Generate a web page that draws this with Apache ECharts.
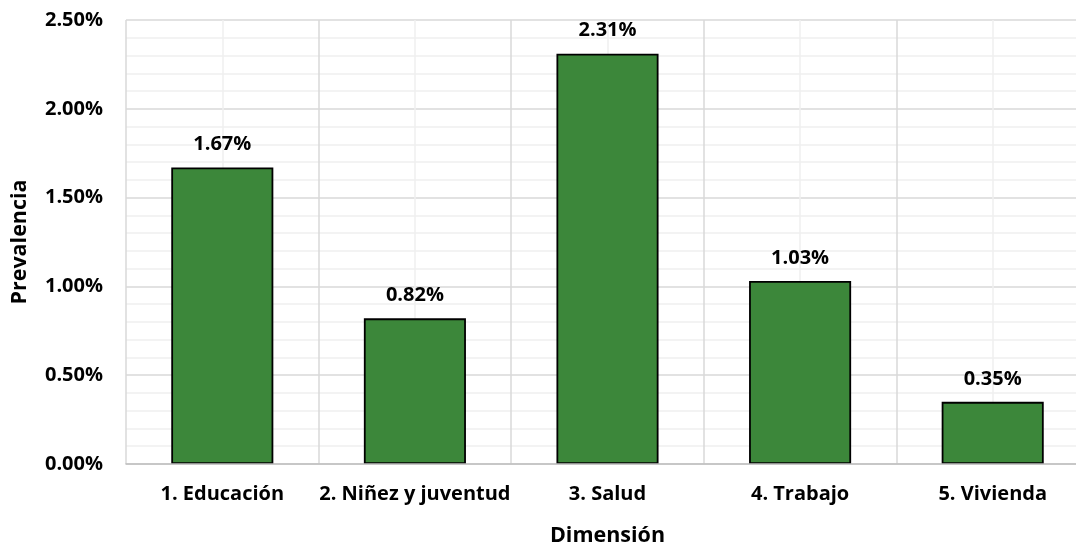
<!DOCTYPE html>
<html>
<head>
<meta charset="utf-8">
<script src="https://cdn.jsdelivr.net/npm/echarts@6/dist/echarts.min.js"></script>
<style>html,body{margin:0;padding:0;background:#fff}#c{width:1076px;height:544px}</style>
</head>
<body>
<div id="c"></div>
<script>
const categories = ['1. Educación', '2. Niñez y juventud', '3. Salud', '4. Trabajo', '5. Vivienda'];
const prevalencia = [1.67, 0.82, 2.31, 1.03, 0.35];
const yTicks = [0, 0.5, 1.0, 1.5, 2.0, 2.5];

const FONT = '"Open Sans"';
const chart = echarts.init(document.getElementById('c'));
chart.setOption({
  animation: false,
  grid: { left: 126, top: 20, bottom: 80, right: -13, containLabel: false, outerBoundsMode: 'none' },
  xAxis: [{
    type: 'category',
    data: categories,
    axisLine: { lineStyle: { color: '#bfbfbf', width: 1.5 } },
    axisTick: { show: false },
    splitLine: { show: false },
    axisLabel: { interval: 0, fontFamily: FONT, fontWeight: 'bold', fontSize: 20, color: '#000', margin: 20 },
    name: 'Dimensión',
    nameLocation: 'middle',
    nameGap: 61,
    nameTextStyle: { fontFamily: FONT, fontWeight: 'bold', fontSize: 21.5, color: '#000' },
    z: 3
  }, {
    type: 'value',
    position: 'bottom',
    min: 0, max: categories.length, interval: 0.5,
    axisLine: { show: false }, axisTick: { show: false }, axisLabel: { show: false },
    splitLine: { show: true, lineStyle: { color: ['#d9d9d9', '#efefef'], width: 1.5 } }
  }],
  yAxis: {
    type: 'value',
    min: yTicks[0], max: yTicks[yTicks.length - 1], interval: 0.5,
    axisLine: { show: false }, axisTick: { show: false },
    axisLabel: { fontFamily: FONT, fontWeight: 'bold', fontSize: 20, color: '#000', margin: 23,
      formatter: v => v.toFixed(2) + '%' },
    splitLine: { lineStyle: { color: '#d9d9d9', width: 1.5 } },
    minorTick: { show: false, splitNumber: 5 },
    minorSplitLine: { show: true, lineStyle: { color: '#efefef', width: 1.5 } },
    name: 'Prevalencia',
    nameLocation: 'middle',
    nameGap: 95,
    nameTextStyle: { fontFamily: FONT, fontWeight: 'bold', fontSize: 21.5, color: '#000' }
  },
  series: [{
    type: 'bar',
    xAxisIndex: 0,
    data: prevalencia,
    barWidth: '53%',
    itemStyle: { color: '#3c873a', borderColor: '#000', borderWidth: 1.8 },
    label: { show: true, position: 'top', distance: 13, fontFamily: FONT, fontWeight: 'bold', fontSize: 20, color: '#000',
      formatter: p => p.value.toFixed(2) + '%' }
  }]
});
</script>
</body>
</html>
